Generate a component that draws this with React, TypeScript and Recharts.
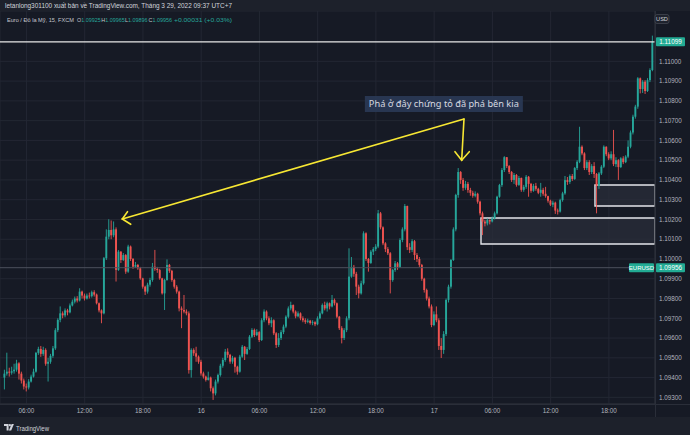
import React from 'react';
import {
  ComposedChart,
  Bar,
  XAxis,
  YAxis,
  CartesianGrid,
  ReferenceLine,
  ReferenceArea,
  ReferenceDot,
} from 'recharts';

// Prices are stored in points (0.00001) above BASE
const BASE = 1.09;
const UNIT = 0.00001;
const FIRST_OPEN = 400;

const day15Close = [
  420, 430, 425, 432, 440, 472, 420, 385, 355, 350,
  380, 405, 430, 525, 545, 520, 540, 470, 480, 510,
  548, 640, 692, 725, 715, 740, 730, 765, 784, 800,
  790, 835, 815, 800, 815, 812, 832, 820, 776, 740,
  725, 1004, 1113, 1147, 1120, 1150, 945, 1037, 995, 1020,
  936, 1063, 1000, 961, 970, 953, 902, 860, 835, 870,
  894, 961, 950, 944, 902, 826, 894, 970, 940, 894,
  860, 835, 750, 742, 734, 725, 438, 540, 523, 506,
  480,
];
const day15High = [
  440, 526, 450, 455, 470, 490, 478, 430, 395, 370,
  392, 415, 445, 530, 556, 560, 556, 548, 500, 520,
  560, 650, 700, 760, 735, 750, 748, 775, 795, 810,
  812, 852, 840, 825, 825, 830, 840, 842, 825, 780,
  745, 1010, 1150, 1201, 1195, 1190, 1160, 1045, 1040, 1030,
  1025, 1072, 1068, 1005, 985, 975, 960, 905, 865, 880,
  905, 980, 1046, 960, 950, 905, 900, 998, 975, 945,
  900, 868, 840, 760, 818, 745, 735, 548, 548, 556,
  512,
];
const day15Low = [
  340, 410, 405, 415, 420, 430, 390, 370, 340, 330,
  340, 375, 400, 425, 515, 505, 510, 460, 380, 470,
  500, 540, 630, 680, 700, 705, 715, 725, 760, 775,
  780, 785, 800, 790, 795, 800, 805, 810, 770, 730,
  675, 720, 995, 1100, 1100, 1110, 886, 940, 980, 990,
  925, 930, 990, 950, 955, 945, 895, 850, 818, 825,
  860, 885, 940, 930, 895, 820, 742, 890, 930, 885,
  850, 825, 735, 650, 725, 715, 420, 400, 510, 480,
  470,
];

const day16Close = [
  421, 405, 388, 400, 346, 320, 380, 413, 460, 489,
  531, 515, 481, 500, 455, 430, 506, 556, 520, 545,
  607, 641, 615, 630, 590, 690, 734, 700, 675, 690,
  624, 565, 600, 630, 658, 708, 750, 767, 734, 710,
  725, 700, 690, 682, 688, 676, 680, 670, 700, 725,
  767, 750, 776, 760, 793, 776, 708, 650, 600, 640,
  700, 911, 960, 925, 860, 826, 877, 1130, 1000, 980,
  1037, 1050, 1063, 1231, 1160, 1079, 1050, 1029, 894, 944,
  978, 960, 1096, 1150, 1268, 1060, 1046, 1090, 1020, 1000,
  970, 900, 843, 800, 760, 666,
];
const day16High = [
  490, 430, 410, 430, 405, 355, 390, 420, 470, 500,
  545, 548, 520, 510, 505, 460, 515, 565, 560, 555,
  615, 650, 648, 645, 635, 700, 745, 740, 710, 705,
  695, 630, 625, 640, 668, 715, 760, 784, 770, 740,
  735, 730, 710, 700, 698, 692, 690, 685, 710, 735,
  775, 784, 784, 780, 818, 800, 780, 712, 660, 650,
  710, 1054, 1010, 970, 935, 870, 890, 1140, 1135, 1005,
  1045, 1060, 1075, 1248, 1238, 1165, 1085, 1060, 1035, 950,
  990, 985, 1105, 1160, 1278, 1270, 1080, 1100, 1096, 1030,
  1010, 975, 905, 850, 810, 770,
];
const day16Low = [
  410, 395, 380, 385, 330, 287, 310, 370, 405, 450,
  480, 500, 470, 470, 425, 415, 425, 500, 489, 515,
  540, 600, 605, 610, 580, 585, 680, 690, 665, 655,
  615, 550, 555, 590, 620, 650, 700, 740, 725, 700,
  705, 690, 680, 672, 675, 668, 665, 660, 665, 695,
  720, 740, 734, 745, 755, 765, 700, 641, 573, 590,
  630, 690, 905, 910, 818, 801, 820, 870, 990, 936,
  975, 1020, 1040, 1055, 1150, 1070, 1035, 1020, 826, 885,
  935, 945, 955, 1085, 1140, 1045, 1030, 1035, 995, 985,
  960, 890, 830, 790, 750, 655,
];

const day17Close = [
  720, 690, 560, 540, 620, 793, 860, 995, 1150, 1324,
  1440, 1400, 1360, 1380, 1349, 1335, 1320, 1330, 1290, 1231,
  1189, 1180, 1197, 1190, 1205, 1231, 1315, 1374, 1450, 1515,
  1470, 1440, 1400, 1425, 1375, 1410, 1350, 1365, 1416, 1380,
  1345, 1370, 1355, 1335, 1350, 1330, 1318, 1295, 1275, 1285,
  1245, 1240, 1298, 1332, 1399, 1390, 1420, 1405, 1460, 1492,
  1568, 1534, 1460, 1490, 1440, 1470, 1430, 1370, 1433, 1467,
  1568, 1530, 1509, 1530, 1480, 1500, 1465, 1509, 1490, 1518,
  1568, 1640, 1720, 1771, 1914, 1860, 1897, 1850, 1905, 1956,
  2099,
];
const day17High = [
  735, 760, 700, 600, 635, 800, 870, 1000, 1160, 1330,
  1460, 1445, 1410, 1395, 1390, 1360, 1345, 1342, 1335, 1295,
  1240, 1197, 1205, 1200, 1215, 1240, 1320, 1380, 1460, 1520,
  1516, 1475, 1445, 1435, 1430, 1420, 1412, 1375, 1425, 1420,
  1385, 1380, 1385, 1360, 1385, 1360, 1365, 1320, 1300, 1295,
  1290, 1255, 1305, 1340, 1420, 1415, 1428, 1430, 1465, 1500,
  1669, 1575, 1540, 1500, 1500, 1480, 1490, 1435, 1440, 1475,
  1575, 1570, 1540, 1545, 1653, 1515, 1505, 1515, 1520, 1525,
  1600, 1650, 1730, 1780, 1920, 1918, 1905, 1905, 1915, 1965,
  2130,
];
const day17Low = [
  660, 680, 540, 499, 520, 610, 780, 850, 990, 1140,
  1310, 1380, 1345, 1350, 1335, 1320, 1310, 1312, 1280, 1220,
  1121, 1165, 1170, 1175, 1185, 1200, 1225, 1310, 1365, 1440,
  1460, 1430, 1390, 1380, 1366, 1370, 1340, 1340, 1355, 1315,
  1335, 1340, 1345, 1328, 1315, 1320, 1310, 1285, 1268, 1262,
  1228, 1225, 1235, 1290, 1325, 1375, 1380, 1395, 1400, 1450,
  1485, 1525, 1450, 1450, 1425, 1430, 1410, 1231, 1355, 1425,
  1460, 1520, 1500, 1500, 1470, 1465, 1400, 1460, 1480, 1485,
  1510, 1560, 1630, 1710, 1760, 1838, 1840, 1835, 1845, 1895,
  1950,
];

const timeTicks = [9, 33, 57, 81, 105, 129, 153, 177, 201, 225, 249];
const timeLabels = ['06:00', '12:00', '18:00', '16', '06:00', '12:00', '18:00', '17', '06:00', '12:00', '18:00'];
const priceTicks = [
  1.093, 1.094, 1.095, 1.096, 1.097, 1.098, 1.099, 1.1, 1.101, 1.102,
  1.103, 1.104, 1.105, 1.106, 1.107, 1.108, 1.109, 1.11,
];

const LAST_PRICE = 1.11099;
const SYMBOL_PRICE = 1.09956;
const NOTE = 'Phá ở đây chứng tỏ đã phá bên kia';
const TITLE = 'letanlong301100 xuất bản về TradingView.com, Tháng 3 29, 2022 09:37 UTC+7';
const SYMBOL_NAME = 'Euro / Đô la Mỹ, 15, FXCM';
const ohlcLabels = ['O', 'H', 'L', 'C'];
const ohlcValues = ['1.09925', '1.09965', '1.09896', '1.09956'];
const CHANGE_TEXT = '+0.00031 (+0.03%)';

// annotation anchors in (bar index, price)
const notePos = { x: 181.0, y: 1.107842 };
const arrowLines = [
  [{ x: 48.5, y: 1.102024 }, { x: 189.29, y: 1.107083 }],
  [{ x: 48.5, y: 1.102024 }, { x: 50.64, y: 1.102393 }],
  [{ x: 48.5, y: 1.102024 }, { x: 51.96, y: 1.101756 }],
  [{ x: 189.29, y: 1.107083 }, { x: 188.34, y: 1.104994 }],
  [{ x: 188.34, y: 1.104994 }, { x: 185.58, y: 1.105429 }],
  [{ x: 188.34, y: 1.104994 }, { x: 191.47, y: 1.105429 }],
];
const zones = [
  { x1: 196.3, x2: 268, y1: 1.100759, y2: 1.102074 },
  { x1: 243.26, x2: 268, y1: 1.102682, y2: 1.103744 },
];

const UP = '#26a69a';
const DOWN = '#ef5350';
const BG = '#161a25';
const BAND = '#1d212b';
const FONT = '"Liberation Sans", Arial, sans-serif';

const closePts = [...day15Close, ...day16Close, ...day17Close];
const highPts = [...day15High, ...day16High, ...day17High];
const lowPts = [...day15Low, ...day16Low, ...day17Low];
const toPrice = (v: number) => BASE + v * UNIT;

const data = closePts.map((c, i) => {
  const o = i === 0 ? FIRST_OPEN : closePts[i - 1];
  const high = toPrice(highPts[i]);
  const low = toPrice(lowPts[i]);
  return { i, open: toPrice(o), close: toPrice(c), high, low, range: [low, high] };
});

const Candle = (props: any) => {
  const { x, y, width, height, payload } = props;
  if (x == null || y == null || !payload) return null;
  const top = Math.min(y, y + height);
  const h = Math.abs(height);
  const { open, close, high, low } = payload;
  const span = high - low;
  const k = span > 0 ? h / span : 0;
  const cx = x + width / 2;
  const yOf = (p: number) => top + (high - p) * k;
  const color = close >= open ? UP : DOWN;
  const bTop = yOf(Math.max(open, close));
  const bBot = yOf(Math.min(open, close));
  const bh = Math.max(bBot - bTop, 0.8);
  return (
    <g>
      <line x1={cx} x2={cx} y1={top} y2={top + h} stroke={color} strokeWidth={0.9} />
      <rect x={cx - 0.95} y={bTop} width={1.9} height={bh} fill={color} />
    </g>
  );
};

const PriceTag = (props: any) => {
  const { viewBox, text, withSymbol } = props;
  if (!viewBox) return null;
  const xr = viewBox.x + viewBox.width;
  const y = viewBox.y;
  return (
    <g>
      {withSymbol && (
        <g>
          <rect x={xr - 26} y={y - 4.5} width={25} height={9} fill="#22ab94" rx={1} />
          <text x={xr - 13.5} y={y + 2.2} textAnchor="middle" fontSize={6} fill="#ffffff" fontFamily={FONT}>
            EURUSD
          </text>
        </g>
      )}
      <rect x={xr + 1} y={y - 4.5} width={29} height={9} fill="#22ab94" rx={1} />
      <text x={xr + 15.5} y={y + 2.3} textAnchor="middle" fontSize={6.4} fill="#ffffff" fontFamily={FONT}>
        {text}
      </text>
    </g>
  );
};

const NoteBox = (props: any) => {
  const { cx, cy } = props;
  if (cx == null || cy == null) return null;
  return (
    <g>
      <rect x={cx - 79} y={cy - 8} width={158} height={16} fill="#2a3a57" fillOpacity={0.9} />
      <text
        x={cx}
        y={cy + 3.4}
        textAnchor="middle"
        fontSize={9.6}
        fill="#d6d9e0"
        fontFamily='"Noto Sans", "DejaVu Sans", sans-serif'
        textLength={150}
        lengthAdjust="spacingAndGlyphs"
      >
        {NOTE}
      </text>
    </g>
  );
};

// x positions of the O/H/L/C legend pieces in the header row
const ohlcX = [77, 101.3, 125, 148.6];

export default function App() {
  return (
    <div style={{ position: 'fixed', left: 0, top: 0, width: 690, height: 435, background: BG, overflow: 'hidden' }}>
      <div style={{ position: 'absolute', left: 0, top: 0 }}>
        <ComposedChart width={690} height={417} data={data} margin={{ top: 11, right: 0, bottom: 0, left: 0 }}>
          <CartesianGrid stroke="#232733" strokeWidth={1} />
          <XAxis
            dataKey="i"
            type="number"
            domain={[-1.9, 268]}
            allowDataOverflow
            ticks={timeTicks}
            interval={0}
            tickFormatter={(v: number) => timeLabels[timeTicks.indexOf(v)] ?? ''}
            height={13}
            tickLine={false}
            tickSize={0}
            tickMargin={5}
            axisLine={{ stroke: '#2a2e39' }}
            tick={{ fill: '#b2b5be', fontSize: 6.3, fontFamily: FONT }}
          />
          <YAxis
            orientation="right"
            type="number"
            domain={[1.092664, 1.112547]}
            allowDataOverflow
            ticks={priceTicks}
            interval={0}
            width={35}
            tickLine={false}
            tickSize={0}
            tickMargin={4}
            axisLine={{ stroke: '#2a2e39' }}
            tickFormatter={(v: number) => v.toFixed(5)}
            tick={{ fill: '#b2b5be', fontSize: 6.3, fontFamily: FONT }}
          />
          {zones.map((z, k) => (
            <ReferenceArea
              key={'z' + k}
              x1={z.x1}
              x2={z.x2}
              y1={z.y1}
              y2={z.y2}
              fill="#2a2e39"
              fillOpacity={0.75}
              stroke="#e3e5ea"
              strokeWidth={1.4}
              ifOverflow="visible"
            />
          ))}
          <ReferenceLine
            y={SYMBOL_PRICE}
            stroke="#4c505c"
            strokeWidth={1}
            label={<PriceTag text={SYMBOL_PRICE.toFixed(5)} withSymbol />}
          />
          <Bar dataKey="range" shape={<Candle />} isAnimationActive={false} barSize={2} />
          <ReferenceLine
            y={LAST_PRICE}
            stroke="#e8e8e8"
            strokeWidth={1.3}
            label={<PriceTag text={LAST_PRICE.toFixed(5)} />}
          />
          {arrowLines.map((seg, k) => (
            <ReferenceLine
              key={'a' + k}
              segment={seg}
              stroke="#f7e733"
              strokeWidth={1.6}
              strokeLinecap="round"
              ifOverflow="visible"
            />
          ))}
          <ReferenceDot x={notePos.x} y={notePos.y} r={1} shape={<NoteBox />} ifOverflow="visible" />
        </ComposedChart>
      </div>
      <svg
        width={690}
        height={435}
        style={{ position: 'absolute', left: 0, top: 0, pointerEvents: 'none' }}
      >
        <rect x={0} y={0} width={690} height={11} fill={BAND} />
        <rect x={0} y={417} width={690} height={18} fill={BAND} />
        <line x1={655.5} x2={655.5} y1={11} y2={417} stroke="#2a2e39" />
        <line x1={0} x2={690} y1={404.5} y2={404.5} stroke="#2a2e39" />
        <text
          x={5}
          y={8}
          fontSize={6.5}
          fill="#d1d4dc"
          fontFamily={FONT}
          textLength={227}
          lengthAdjust="spacingAndGlyphs"
        >
          {TITLE}
        </text>
        <text x={7} y={22.2} fontSize={5.6} fill="#c3c6ce" fontFamily={FONT}>
          {SYMBOL_NAME}
        </text>
        {ohlcLabels.map((l, k) => (
          <text key={'o' + k} x={ohlcX[k]} y={22.2} fontSize={5.4} fill="#c3c6ce" fontFamily={FONT}>
            {l}
            <tspan fill={UP}>{ohlcValues[k]}</tspan>
          </text>
        ))}
        <text
          x={174}
          y={22.2}
          fontSize={6.2}
          fill={UP}
          fontFamily={FONT}
          textLength={58}
          lengthAdjust="spacingAndGlyphs"
        >
          {CHANGE_TEXT}
        </text>
        <rect x={655} y={14.5} width={14} height={9} rx={2} fill="#1e222d" stroke="#434651" strokeWidth={0.8} />
        <text x={662} y={21.3} textAnchor="middle" fontSize={5.6} fill="#d1d4dc" fontFamily={FONT}>
          USD
        </text>
        <path d="M4 424 h4.6 v6.6 h-2 v-4.6 h-2.6 z" fill="#d1d4dc" />
        <circle cx={9.9} cy={425.2} r={1.1} fill="#d1d4dc" />
        <path d="M11.6 424 h2.3 l-2.7 6.6 h-2.3 z" fill="#d1d4dc" />
        <text
          x={16}
          y={430.5}
          fontSize={7}
          fill="#d1d4dc"
          fontFamily={FONT}
          textLength={33}
          lengthAdjust="spacingAndGlyphs"
        >
          TradingView
        </text>
      </svg>
    </div>
  );
}
